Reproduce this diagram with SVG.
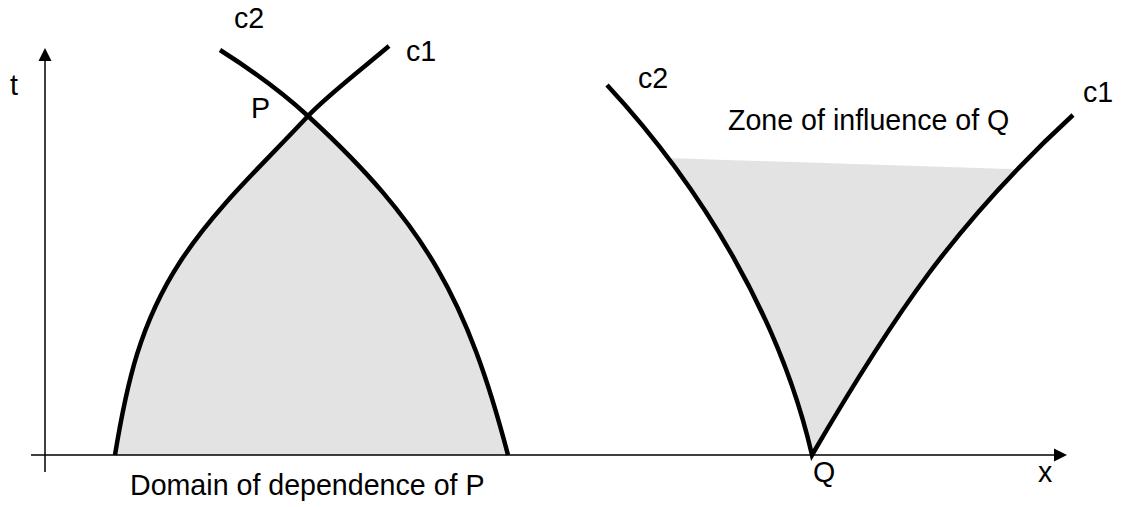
<svg xmlns="http://www.w3.org/2000/svg" width="1123" height="507" viewBox="0 0 1123 507">
  <style>
    .lbl { font-family: "Liberation Sans", Arial, sans-serif; font-size: 28.6px; fill: #000; }
    .axis { stroke: #000; stroke-width: 1.5; fill: none; }
    .curve { stroke: #000; stroke-width: 4.5; fill: none; stroke-linejoin: miter; stroke-linecap: butt; }
    .zone { fill: #e3e3e3; stroke: none; }
  </style>
  <rect width="1123" height="507" fill="#fff"/>

  <g id="fills">
    <path id="domain-fill" class="zone" d="M115,455 C126.8,383 140.2,323.2 180,262 C215.4,207.5 263.8,163.6 308,116 C425.8,224.3 467.4,300.3 508,455 Z"/>
    <path id="zone-fill" class="zone" d="M668.4,158.1 C735,246.8 787.6,349.3 812,455 C878.9,340.3 933.3,256.3 1017.4,169.2 Z"/>
  </g>

  <g id="axes">
    <line class="axis" x1="45" y1="472" x2="45" y2="58"/>
    <polygon points="45,48 38.5,61 51.5,61" fill="#000"/>
    <line class="axis" x1="31" y1="455" x2="1057" y2="455"/>
    <polygon points="1067,455 1054,448.5 1054,461.5" fill="#000"/>
  </g>

  <g id="connectors">
    <path id="c1-left" class="curve" d="M115,455 C126.8,383 140.2,323.2 180,262 C215.4,207.5 263.8,163.6 308,116 C326.4,96.2 368.5,63.6 389,46"/>
    <path id="c2-left" class="curve" d="M220,50 C250,69 283,93 308,116 C425.8,224.3 467.4,300.3 508,455"/>
    <path id="cQ" class="curve" d="M607,85 C702.2,187.6 780.5,318.6 812,455 C892.6,316.8 955.1,223.2 1073,115"/>
  </g>

  <g id="label-t"><text class="lbl" x="10" y="95">t</text></g>
  <g id="label-x"><text class="lbl" x="1038" y="482">x</text></g>
  <g id="label-c2-left"><text class="lbl" x="234" y="28">c2</text></g>
  <g id="label-c1-left"><text class="lbl" x="406" y="61">c1</text></g>
  <g id="node-P"><text class="lbl" x="251" y="118">P</text></g>
  <g id="label-c2-right"><text class="lbl" x="638" y="88">c2</text></g>
  <g id="label-c1-right"><text class="lbl" x="1083" y="102">c1</text></g>
  <g id="node-Q"><text class="lbl" x="813" y="482">Q</text></g>
  <g id="label-domain"><text class="lbl" x="130" y="495">Domain of dependence of P</text></g>
  <g id="label-zone"><text class="lbl" x="728" y="130">Zone of influence of Q</text></g>
</svg>
